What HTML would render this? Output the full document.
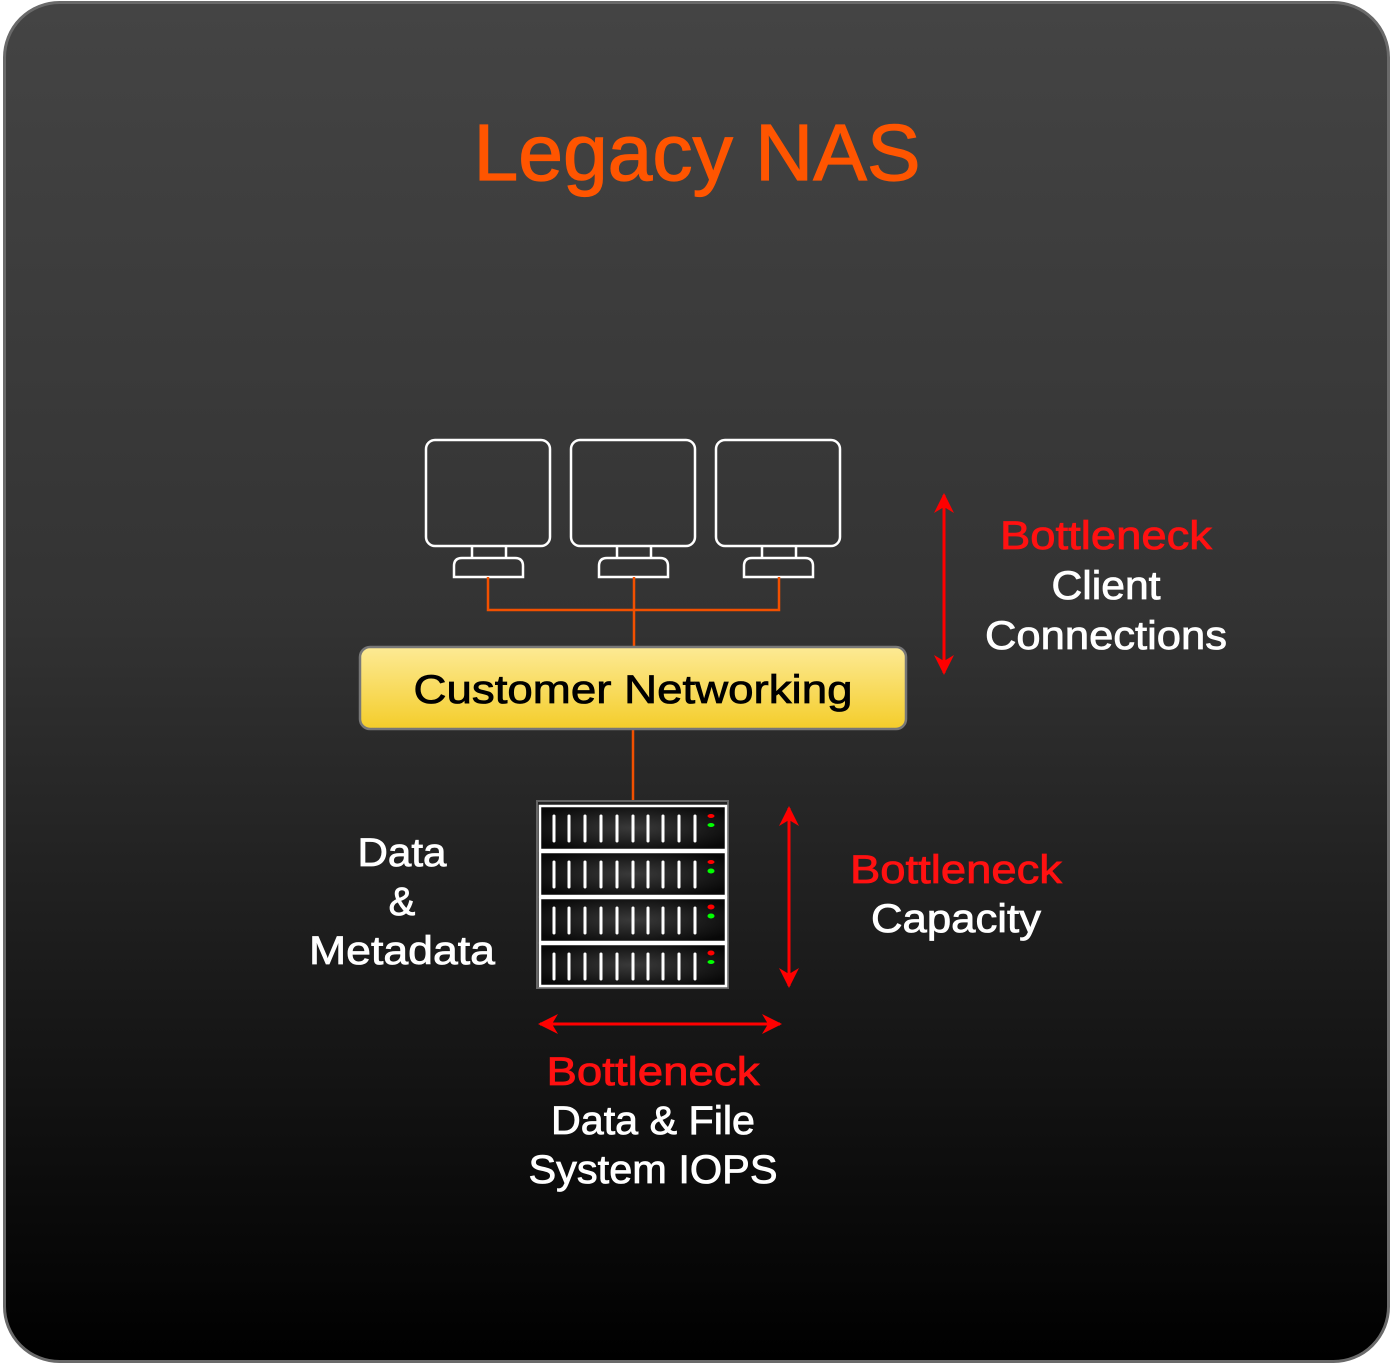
<!DOCTYPE html>
<html><head><meta charset="utf-8"><style>
html,body{margin:0;padding:0;background:#fff;width:1393px;height:1365px;overflow:hidden}
svg{display:block}
text{font-family:"Liberation Sans",sans-serif}
</style></head><body>
<svg width="1393" height="1365" viewBox="0 0 1393 1365" xmlns="http://www.w3.org/2000/svg">
<defs>
<linearGradient id="bg" x1="0" y1="0" x2="0" y2="1">
<stop offset="0" stop-color="#444"/><stop offset="0.45" stop-color="#333"/><stop offset="1" stop-color="#000"/>
</linearGradient>
<linearGradient id="yb" x1="0" y1="0" x2="0" y2="1">
<stop offset="0" stop-color="#fdea95"/><stop offset="1" stop-color="#f4cd2a"/>
</linearGradient>
<radialGradient id="bl" cx="0.5" cy="0.5" r="0.6">
<stop offset="0" stop-color="#3a3a3a"/><stop offset="1" stop-color="#080808"/>
</radialGradient>
<marker id="ah" viewBox="0 0 20 20" refX="18" refY="10" markerWidth="20" markerHeight="20" markerUnits="userSpaceOnUse" orient="auto-start-reverse">
<path d="M0,0 L20,10 L0,20 L6,10 Z" fill="#ff0000"/>
</marker>
</defs>
<rect x="4.5" y="2.5" width="1384" height="1359" rx="55" fill="url(#bg)" stroke="#6a6a6a" stroke-width="3"/>
<text x="697" y="180" font-size="80" fill="#ff5500" stroke="#ff5500" stroke-width="1.2" text-anchor="middle" textLength="447" lengthAdjust="spacingAndGlyphs">Legacy NAS</text>

<g fill="none" stroke="#fff" stroke-width="2.5">
<rect x="426" y="440" width="124" height="106" rx="9"/>
<path d="M472 546 V558 M506 546 V558 M454 577 V566 Q454 558 462 558 H515 Q523 558 523 566 V577 Z"/>
<rect x="571" y="440" width="124" height="106" rx="9"/>
<path d="M617 546 V558 M651 546 V558 M599 577 V566 Q599 558 607 558 H660 Q668 558 668 566 V577 Z"/>
<rect x="716" y="440" width="124" height="106" rx="9"/>
<path d="M762 546 V558 M796 546 V558 M744 577 V566 Q744 558 752 558 H805 Q813 558 813 566 V577 Z"/>
</g>
<g fill="none" stroke="#f25000" stroke-width="2.5">
<path d="M488 577 V610 H779 V577 M634 577 V647 M633 730 V806"/>
</g>
<rect x="360" y="647" width="546" height="82" rx="10" fill="url(#yb)" stroke="#777" stroke-width="2.5"/>
<text x="633" y="703" font-size="40" fill="#000" stroke="#000" stroke-width="0.8" text-anchor="middle" textLength="439" lengthAdjust="spacingAndGlyphs">Customer Networking</text>

<rect x="537" y="801" width="191" height="187" fill="#222" stroke="#666" stroke-width="2"/>
<g stroke="#fff" stroke-width="2.5">
<rect x="540" y="806" width="186" height="44" fill="url(#bl)"/>
<rect x="540" y="852" width="186" height="44" fill="url(#bl)"/>
<rect x="540" y="898" width="186" height="44" fill="url(#bl)"/>
<rect x="540" y="944" width="186" height="42" fill="url(#bl)"/>
</g>
<g stroke="#fff" stroke-width="3" stroke-linecap="round">
<path d="M554 816V841M569 816V841M585 816V841M601 816V841M617 816V841M633 816V841M648 816V841M663 816V841M679 816V841M695 816V841"/>
<path d="M554 862V887M569 862V887M585 862V887M601 862V887M617 862V887M633 862V887M648 862V887M663 862V887M679 862V887M695 862V887"/>
<path d="M554 908V933M569 908V933M585 908V933M601 908V933M617 908V933M633 908V933M648 908V933M663 908V933M679 908V933M695 908V933"/>
<path d="M554 954V979M569 954V979M585 954V979M601 954V979M617 954V979M633 954V979M648 954V979M663 954V979M679 954V979M695 954V979"/>
</g>
<g>
<ellipse cx="711" cy="816" rx="3.5" ry="2" fill="#f00"/><ellipse cx="711" cy="825" rx="3.5" ry="2" fill="#0f0"/>
<ellipse cx="711" cy="862" rx="3.5" ry="2" fill="#f00"/><ellipse cx="711" cy="871" rx="3.5" ry="2.5" fill="#0f0"/>
<ellipse cx="711" cy="907" rx="3.5" ry="2.5" fill="#f00"/><ellipse cx="711" cy="916" rx="3.5" ry="2.5" fill="#0f0"/>
<ellipse cx="711" cy="953" rx="3.5" ry="2.5" fill="#f00"/><ellipse cx="711" cy="962" rx="3.5" ry="2" fill="#0f0"/>
</g>
<g stroke="#ff0000" stroke-width="3" fill="none">
<line x1="944" y1="495" x2="944" y2="673" marker-start="url(#ah)" marker-end="url(#ah)"/>
<line x1="789" y1="808" x2="789" y2="986" marker-start="url(#ah)" marker-end="url(#ah)"/>
<line x1="540" y1="1024" x2="780" y2="1024" marker-start="url(#ah)" marker-end="url(#ah)"/>
</g>
<g font-size="40" text-anchor="middle" stroke-width="0.8" lengthAdjust="spacingAndGlyphs">
<text x="1106" y="549" fill="#ff1111" stroke="#ff1111" textLength="212" lengthAdjust="spacingAndGlyphs">Bottleneck</text>
<text x="1106" y="599" fill="#fff" stroke="#fff" textLength="109" lengthAdjust="spacingAndGlyphs">Client</text>
<text x="1106" y="649" fill="#fff" stroke="#fff" textLength="242" lengthAdjust="spacingAndGlyphs">Connections</text>
<text x="956" y="883" fill="#ff1111" stroke="#ff1111" textLength="212" lengthAdjust="spacingAndGlyphs">Bottleneck</text>
<text x="956" y="932" fill="#fff" stroke="#fff" textLength="170" lengthAdjust="spacingAndGlyphs">Capacity</text>
<text x="653" y="1085" fill="#ff1111" stroke="#ff1111" textLength="213" lengthAdjust="spacingAndGlyphs">Bottleneck</text>
<text x="653" y="1134" fill="#fff" stroke="#fff" textLength="204" lengthAdjust="spacingAndGlyphs">Data &amp; File</text>
<text x="653" y="1183" fill="#fff" stroke="#fff" textLength="249" lengthAdjust="spacingAndGlyphs">System IOPS</text>
<text x="402" y="866" fill="#fff" stroke="#fff" textLength="89" lengthAdjust="spacingAndGlyphs">Data</text>
<text x="402" y="915" fill="#fff" stroke="#fff">&amp;</text>
<text x="402" y="964" fill="#fff" stroke="#fff" textLength="186" lengthAdjust="spacingAndGlyphs">Metadata</text>
</g>
</svg>
</body></html>
